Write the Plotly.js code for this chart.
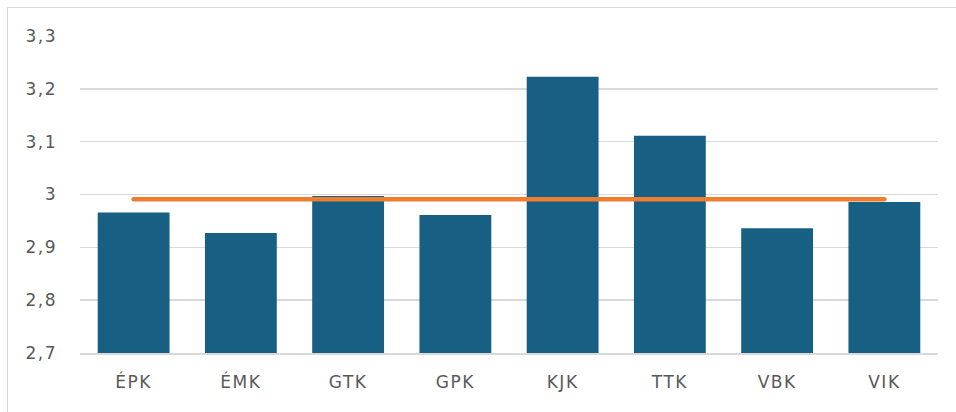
<!DOCTYPE html>
<html>
<head>
<meta charset="utf-8">
<script src="https://cdn.plot.ly/plotly-3.0.1.min.js"></script>
<style>
html,body{margin:0;padding:0;background:#fff;}
#wrap{position:relative;width:956px;height:412px;overflow:hidden;}
#chart{position:absolute;left:0;top:0;width:956px;height:412px;}
#frame{position:absolute;left:7px;top:7px;width:1000px;height:500px;border-left:1.5px solid #d9d9d9;border-top:1.5px solid #d9d9d9;pointer-events:none;}
.xtick text, .ytick text{letter-spacing:1.5px;}
.scatterlayer path.js-line{stroke-linecap:round !important;}
</style>
</head>
<body>
<div id="wrap"><div id="chart"></div><div id="frame"></div></div>
<script>
const categories = ["ÉPK", "ÉMK", "GTK", "GPK", "KJK", "TTK", "VBK", "VIK"];
const barValues = [2.966, 2.927, 2.997, 2.961, 3.223, 3.111, 2.936, 2.986];
const averageValues = [2.991, 2.991, 2.991, 2.991, 2.991, 2.991, 2.991, 2.991];
const yTickVals = [2.7, 2.8, 2.9, 3.0, 3.1, 3.2, 3.3];
const yTickText = ["2,7", "2,8", "2,9", "3", "3,1", "3,2", "3,3"];

const font = {family: "'DejaVu Sans', sans-serif", size: 17, color: "#595959"};

const data = [
  {
    type: "bar",
    x: categories,
    y: barValues,
    marker: {color: "#176084", line: {width: 0}},
    hoverinfo: "x+y",
    cliponaxis: true
  },
  {
    type: "scatter",
    mode: "lines",
    x: categories,
    y: averageValues,
    line: {color: "#ED7D31", width: 4.5},
    hoverinfo: "y",
    cliponaxis: false
  }
];

const layout = {
  width: 956,
  height: 412,
  margin: {l: 80, r: 18, t: 36, b: 59},
  paper_bgcolor: "#ffffff",
  plot_bgcolor: "#ffffff",
  showlegend: false,
  bargap: 0.33,
  separators: ", ",
  font: font,
  xaxis: {
    type: "category",
    showgrid: false,
    showline: true,
    linecolor: "#d9d9d9",
    linewidth: 1.5,
    ticks: "",
    tickfont: font,
    ticklabelstandoff: 13
  },
  yaxis: {
    range: [2.7, 3.3],
    tickvals: yTickVals,
    ticktext: yTickText,
    showgrid: true,
    gridcolor: "#d9d9d9",
    gridwidth: 1.5,
    zeroline: false,
    showline: false,
    ticks: "",
    tickfont: font,
    ticklabelstandoff: 22
  }
};

Plotly.newPlot("chart", data, layout, {displayModeBar: false, staticPlot: true});
</script>
</body>
</html>
